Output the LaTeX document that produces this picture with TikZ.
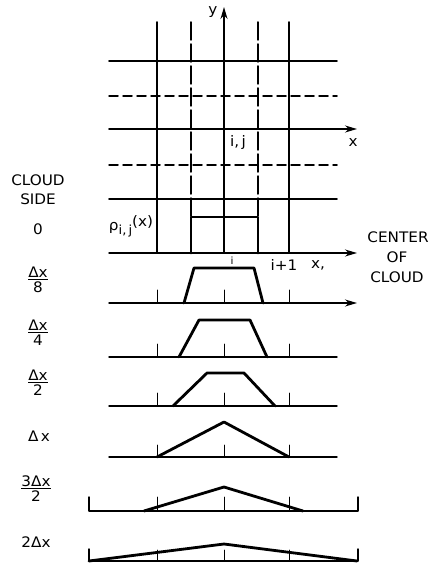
\documentclass[tikz,border=0pt]{standalone}
\usepackage{fontspec}
\setmainfont{DejaVu Sans}[FakeStretch=1.05]
\usetikzlibrary{arrows.meta}
\newcommand{\frc}[2]{\underline{#1}\\[-1pt]#2}
\begin{document}
\begin{tikzpicture}[x=1pt,y=-1pt,line cap=round,line join=round,>={Stealth[length=12pt,width=7pt]},font=\fontsize{14.5}{16}\selectfont,
	grid/.style={line width=1.6pt},
	halfgrid/.style={line width=1.5pt,dash pattern=on 9pt off 5pt},
	halfcol/.style={line width=1.5pt,dash pattern=on 18pt off 4pt},
	cloud/.style={line width=2.8pt},
	base/.style={line width=1.4pt},
	tick/.style={line width=1pt}]
	\useasboundingbox (0,0) rectangle (428,564);
	% mesh
	\foreach \y in {61,199}{
		\draw[grid] (109,\y) -- (337,\y);
	}
	\foreach \y in {96,165}{
		\draw[halfgrid] (109,\y) -- (337,\y);
	}
	\foreach \x in {157,289}{
		\draw[grid] (\x,22) -- (\x,253);
	}
	\foreach \x in {191,258}{
		\draw[halfcol] (\x,22) -- (\x,217);
	}
	\path (109,129) coordinate (xo) (357,129) coordinate (xe)
	(224,253) coordinate (yo) (224,7) coordinate (ye);
	\draw[grid,->] (xo) -- (xe);
	\draw[grid,->] (yo) -- (ye);
	\node (y) at (213,12) {y};
	\node (x) at (353,143) {x};
	\node (ij) at (238,143) {i,\,j};
	% cloud side 0
	\path (109,253) coordinate (ro) (357,253) coordinate (re);
	\draw[base,->] (ro) -- (re);
	\draw[cloud] (191,253) -- (191,217) -- (258,217) -- (258,253);
	\node (rho) at (131,226) {ρ\raisebox{-4pt}{\fontsize{12.5}{12}\selectfont i,\,j}\raisebox{4pt}{(x)}};
	\node[font=\fontsize{10}{10}\selectfont] (i) at (232,261) {i};
	\node (ip) at (284,265) {i+1};
	\node (xc) at (318,265) {x,};
	% trapezoids
	\draw[base,->] (109,303) -- (357,303);
	\foreach \y in {357,406,457}{
		\draw[base] (109,\y) -- (337,\y);
	}
	\foreach \y/\a/\b/\c/\d/\h in {303/184/194/254/263/268,357/179/199/250/267/320,406/173/207/244/275/373}{
		\foreach \x in {157,224,289}{
			\draw[tick] (\x,\y) -- (\x,\y-13);
		}
		\draw[cloud] (\a,\y) -- (\b,\h) -- (\c,\h) -- (\d,\y);
	}
	% triangles
	\foreach \x in {157,224,289}{
		\draw[tick] (\x,457) -- (\x,445);
		\draw[tick] (\x,511) -- (\x,497);
		\draw[tick] (\x,561) -- (\x,550);
	}
	\draw[base] (89,497) -- (89,511) -- (358,511) -- (358,497);
	\draw[base] (89,549) -- (89,561) -- (358,561) -- (358,549);
	\draw[cloud] (157,457) -- (224,422) -- (289,457);
	\draw[cloud] (144,511) -- (224,487) -- (303,511);
	\draw[cloud] (89,561) -- (224,544) -- (357,561);
	% cloud side labels
	\node (cl) at (38,180) {CLOUD};
	\node (sd) at (38,199) {SIDE};
	\node (s0) at (38,229) {0};
	\node[align=center] (s1) at (38,280) {\frc{Δx}{8}};
	\node[align=center] (s2) at (38,333) {\frc{Δx}{4}};
	\node[align=center] (s3) at (38,383) {\frc{Δx}{2}};
	\node (s4) at (39,436) {Δ\,x};
	\node[align=center] (s5) at (36,489) {\frc{3Δx}{2}};
	\node (s6) at (36,542) {2Δx};
	% center of cloud
	\node (ce) at (398,237) {CENTER};
	\node (of) at (397,257) {OF};
	\node (cd) at (397,277) {CLOUD};
\end{tikzpicture}
\end{document}
